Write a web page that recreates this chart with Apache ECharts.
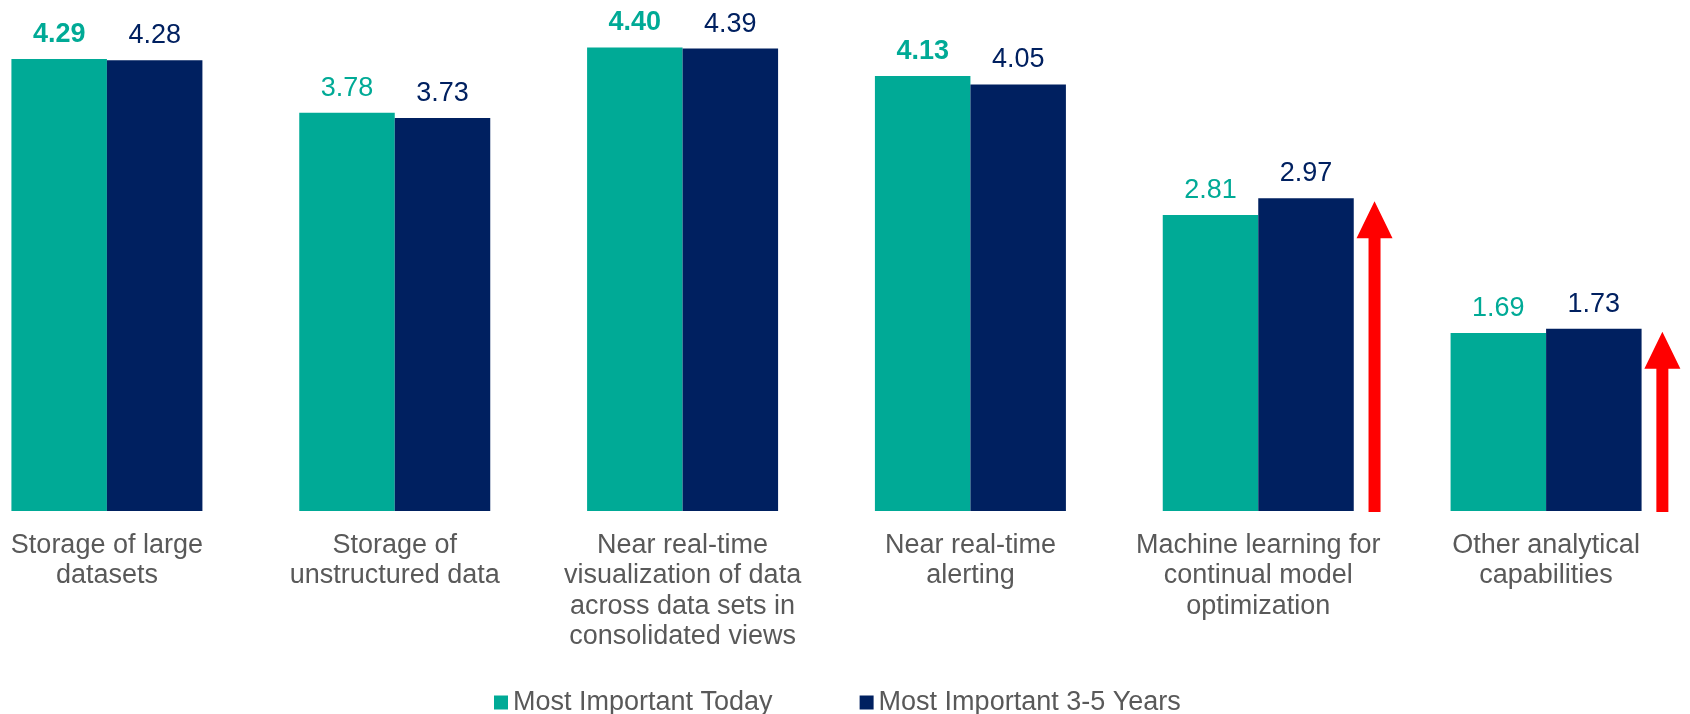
<!DOCTYPE html>
<html>
<head>
<meta charset="utf-8">
<script src="https://cdn.jsdelivr.net/npm/echarts@6/dist/echarts.min.js"></script>
<style>
html,body{margin:0;padding:0;background:#fff;overflow:hidden;width:1690px;height:714px;}
#chart{position:absolute;left:-37px;top:0;width:1727px;height:714px;}
</style>
</head>
<body>
<div id="chart"></div>
<script>
const categories = [
  'Storage of large\ndatasets',
  'Storage of\nunstructured data',
  'Near real-time\nvisualization of data\nacross data sets in\nconsolidated views',
  'Near real-time\nalerting',
  'Machine learning for\ncontinual model\noptimization',
  'Other analytical\ncapabilities'
];
const seriesNames = ['Most Important Today', 'Most Important 3-5 Years'];
const todayValues = [4.29, 3.78, 4.40, 4.13, 2.81, 1.69];
const futureValues = [4.28, 3.73, 4.39, 4.05, 2.97, 1.73];
const boldTodayIndices = [0, 2, 3];
const arrowTips = [null, null, null, null, 2.97, 1.73];

const TEAL = '#00AA96';
const NAVY = '#002060';
const GREY = '#595959';
const FONT = '"Liberation Sans", Arial, sans-serif';

const chart = echarts.init(document.getElementById('chart'));

const todayData = todayValues.map((v, i) => ({
  value: v,
  label: { fontWeight: boldTodayIndices.includes(i) ? 'bold' : 'normal' }
}));

const arrowData = arrowTips
  .map((v, i) => (v == null ? null : [i, v]))
  .filter(d => d);

chart.setOption({
  animation: false,
  backgroundColor: '#fff',
  textStyle: { fontFamily: FONT },
  grid: { left: 0, right: 0, top: 37, bottom: 203, containLabel: false },
  legend: {
    data: seriesNames,
    left: 526,
    top: 684,
    icon: 'rect',
    itemWidth: 14,
    itemHeight: 14,
    itemGap: 87,
    textStyle: { fontSize: 27, color: GREY, fontFamily: FONT }
  },
  xAxis: {
    type: 'category',
    data: categories,
    axisLine: { show: false },
    axisTick: { show: false },
    axisLabel: {
      interval: 0,
      margin: 19,
      fontSize: 27,
      lineHeight: 30.5,
      color: GREY,
      fontFamily: FONT
    }
  },
  yAxis: {
    type: 'value',
    min: 0,
    max: 4.5,
    interval: 0.5,
    show: false,
    splitLine: { show: false }
  },
  series: [
    {
      name: seriesNames[0],
      type: 'bar',
      data: todayData,
      barWidth: 95.5,
      barGap: '0%',
      itemStyle: { color: TEAL },
      label: {
        show: true,
        position: 'top',
        distance: 11,
        fontSize: 27,
        color: TEAL,
        fontFamily: FONT,
        formatter: p => Number(p.value).toFixed(2)
      }
    },
    {
      name: seriesNames[1],
      type: 'bar',
      data: futureValues,
      barWidth: 95.5,
      barGap: '0%',
      itemStyle: { color: NAVY },
      label: {
        show: true,
        position: 'top',
        distance: 11,
        fontSize: 27,
        color: NAVY,
        fontFamily: FONT,
        formatter: p => Number(p.value).toFixed(2)
      }
    },
    {
      name: 'arrows',
      type: 'custom',
      data: arrowData,
      silent: true,
      z: 5,
      renderItem: function (params, api) {
        const idx = api.value(0);
        const v = api.value(1);
        const top = api.coord([idx, v]);
        const base = api.coord([idx, 0]);
        const band = api.size([1, 0])[0];
        const x = top[0] + band * 0.404;
        const headH = 37, headW = 18, shaftW = 6;
        const yTip = top[1] + 3;
        const yHead = yTip + headH;
        const yBase = base[1] + 1;
        return {
          type: 'polygon',
          shape: {
            points: [
              [x, yTip],
              [x + headW, yHead],
              [x + shaftW, yHead],
              [x + shaftW, yBase],
              [x - shaftW, yBase],
              [x - shaftW, yHead],
              [x - headW, yHead]
            ]
          },
          style: { fill: '#FF0000' }
        };
      }
    }
  ]
});
</script>
</body>
</html>
